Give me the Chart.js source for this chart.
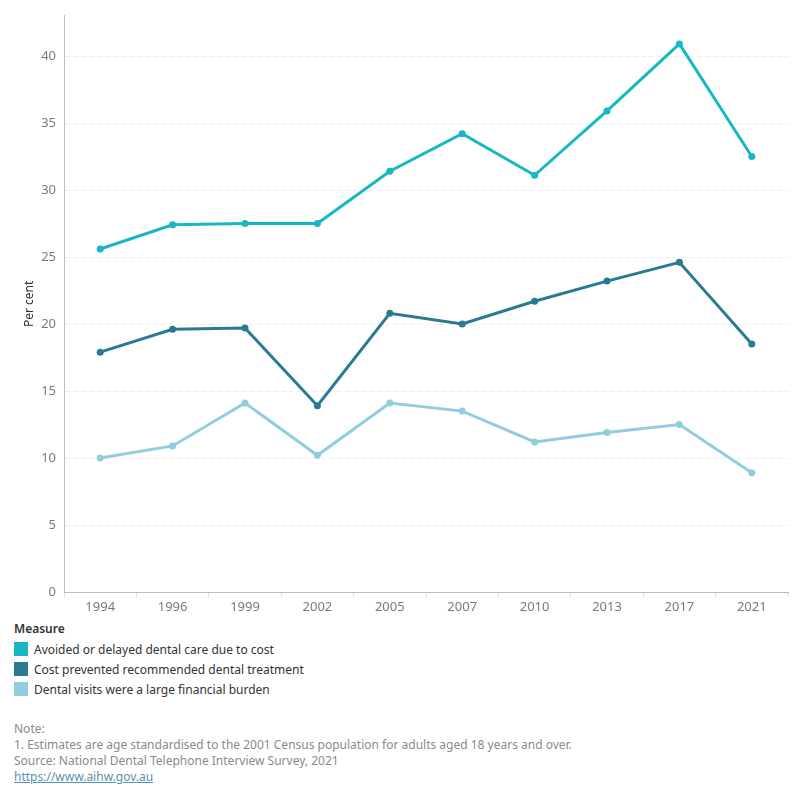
<!DOCTYPE html>
<html><head><meta charset="utf-8">
<script src="https://cdn.jsdelivr.net/npm/chart.js@4/dist/chart.umd.min.js"></script>
<style>
body{margin:0;background:#fff;font-family:"Noto Sans",sans-serif;}
#wrap{position:absolute;left:0;top:0;width:800px;height:620px;}
#legend{position:absolute;left:14px;top:620px;color:#333;font-size:12px;}
#legend .t{font-weight:600;margin-bottom:2px;}
#legend .r{display:flex;align-items:center;height:20px;}
#legend .s{width:14px;height:14px;margin-right:6px;}
#notes{position:absolute;left:14px;top:721px;color:#8a8a8a;font-size:12px;line-height:16px;}
#notes a{color:#5b8fb0;text-decoration:underline;}
</style></head><body>
<div id="wrap"><canvas id="c" width="800" height="620"></canvas></div>
<div id="legend"></div>
<div id="notes">Note:<br>1. Estimates are age standardised to the 2001 Census population for adults aged 18 years and over.<br>Source: National Dental Telephone Interview Survey, 2021<br><a>https://www.aihw.gov.au</a></div>
<script>
const years = ["1994","1996","1999","2002","2005","2007","2010","2013","2017","2021"];
const avoided = [25.6,27.4,27.5,27.5,31.4,34.2,31.1,35.9,40.9,32.5];
const costPrevented = [17.9,19.6,19.7,13.9,20.8,20.0,21.7,23.2,24.6,18.5];
const burden = [10.0,10.9,14.1,10.2,14.1,13.5,11.2,11.9,12.5,8.9];
const seriesNames = ["Avoided or delayed dental care due to cost","Cost prevented recommended dental treatment","Dental visits were a large financial burden"];
const colors = ["#17B8C4","#2B7A94","#92CDDF"];
const yTicks = [0,5,10,15,20,25,30,35,40];

const leg = document.getElementById('legend');
leg.innerHTML = '<div class="t">Measure</div>' + seriesNames.map((n,i)=>`<div class="r"><div class="s" style="background:${colors[i]}"></div>${n}</div>`).join('');

const mk = (d,i)=>({label:seriesNames[i],data:d,borderColor:colors[i],backgroundColor:colors[i],borderWidth:3,pointRadius:3.5,pointBorderWidth:0,tension:0});
new Chart(document.getElementById('c'),{
  type:'line',
  data:{labels:years,datasets:[mk(avoided,0),mk(costPrevented,1),mk(burden,2)]},
  options:{
    responsive:false,animation:false,
    layout:{padding:{top:12,right:12,left:0,bottom:0}},
    plugins:{legend:{display:false},tooltip:{enabled:false}},
    scales:{
      x:{offset:true,
        grid:{offset:true,drawOnChartArea:false,drawTicks:true,tickLength:5,color:'#e0e0e0'},
        border:{color:'#bdbdbd'},
        ticks:{color:'#7a7a7a',font:{family:'Noto Sans',size:13},padding:2},
        afterFit:s=>{s.height=28;}
      },
      y:{min:0,max:43,
        afterBuildTicks:s=>{s.ticks=yTicks.map(v=>({value:v}));},
        grid:{color:'#ebebeb',drawTicks:false,tickLength:0},
        border:{color:'#bdbdbd',dash:[4,4]},
        ticks:{color:'#7a7a7a',font:{family:'Noto Sans',size:13},padding:8},
        title:{display:true,text:'Per cent',color:'#333',font:{family:'Noto Sans',size:12},padding:{top:22,bottom:0}},
        afterFit:s=>{s.width=64;}
      }
    }
  }
});
</script>
</body></html>
